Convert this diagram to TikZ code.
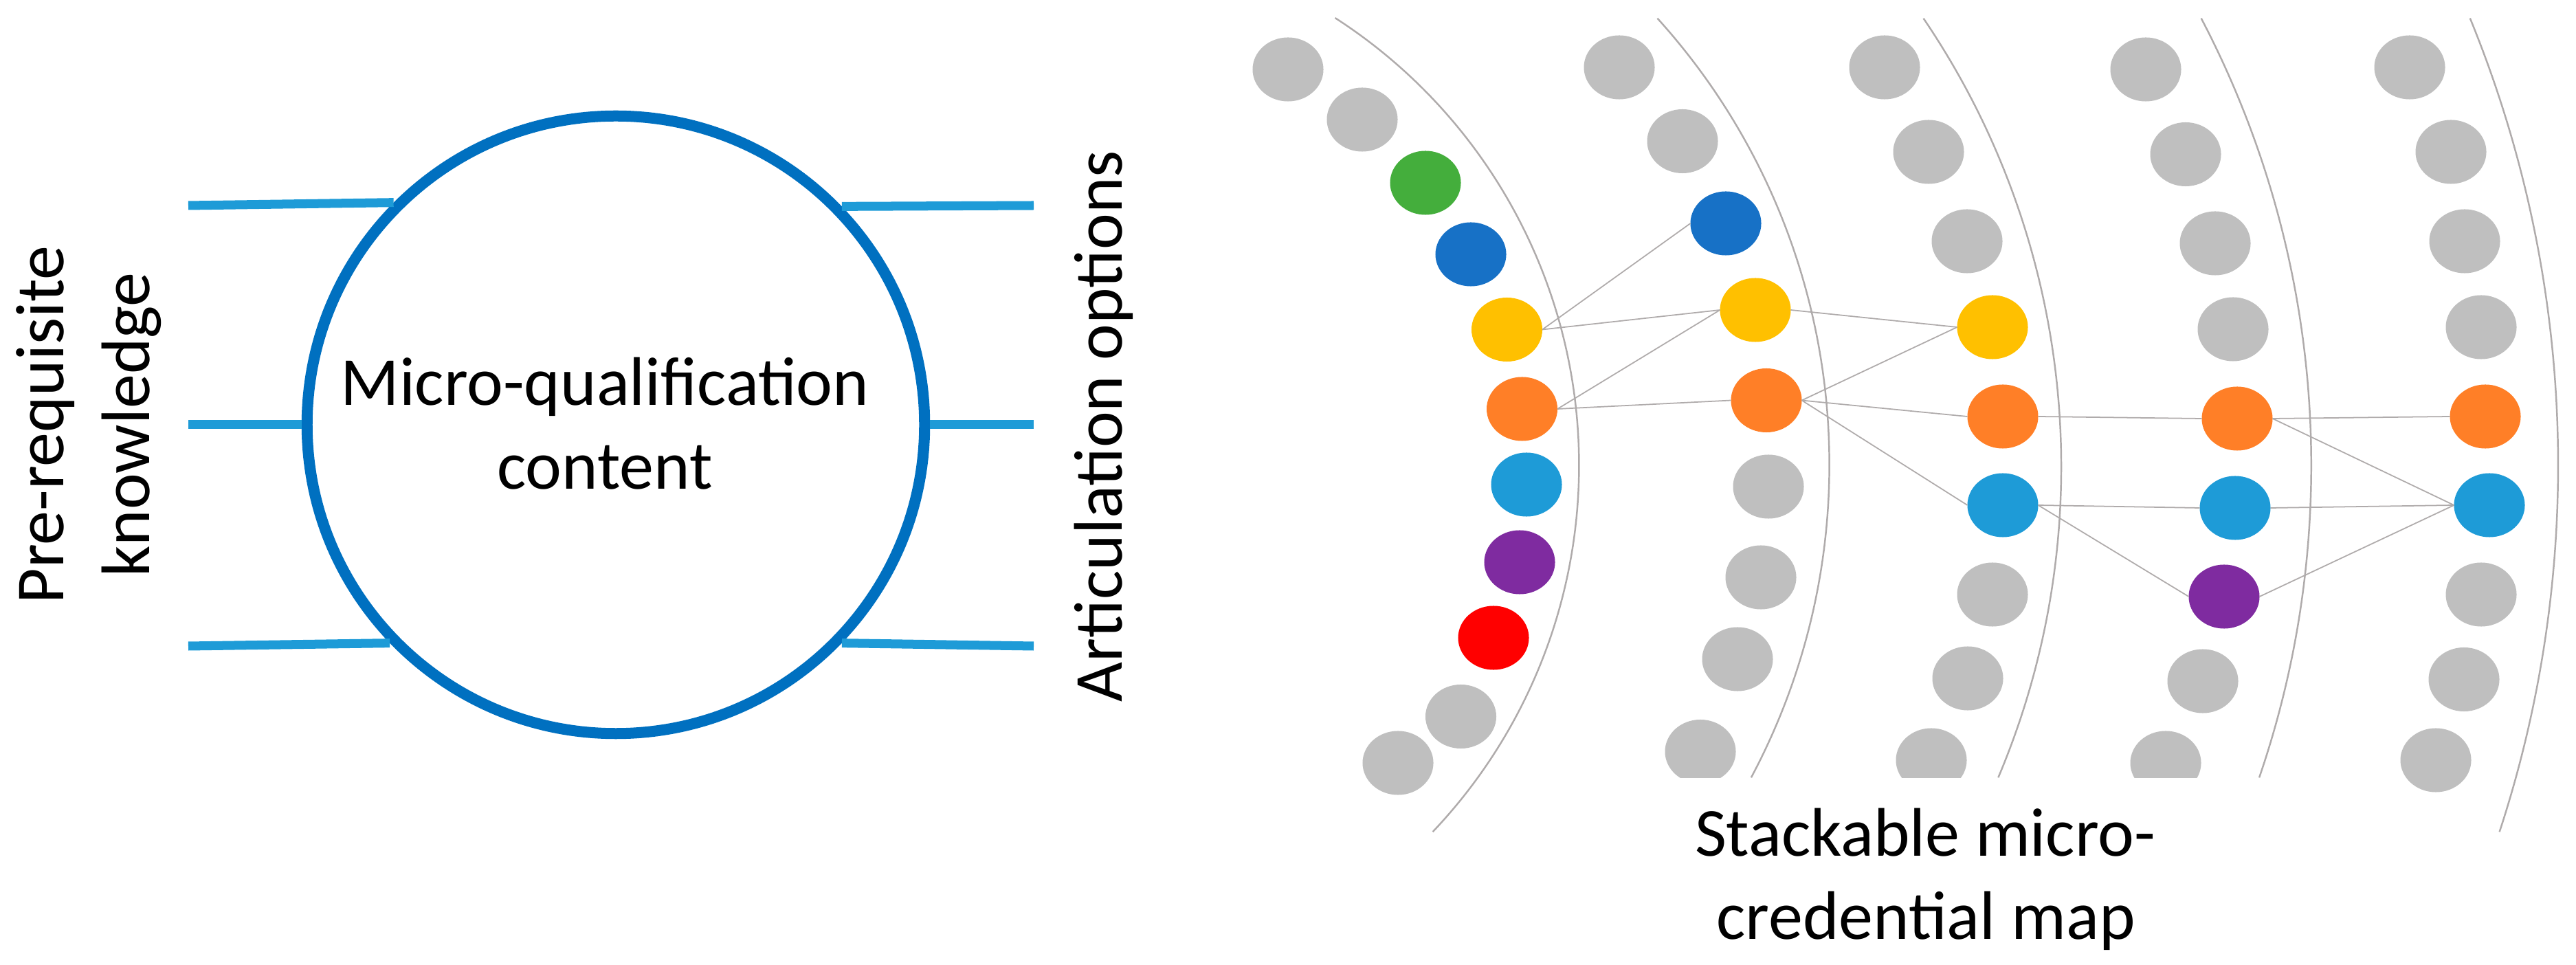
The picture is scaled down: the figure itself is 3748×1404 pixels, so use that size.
\documentclass[tikz,border=0pt]{standalone}
\usepackage{fontspec}
\setmainfont{Carlito}
\usetikzlibrary{shapes.geometric}
\definecolor{dotgray}{RGB}{191,191,191}
\definecolor{dgreen}{RGB}{68,174,60}
\definecolor{dblue}{RGB}{23,113,198}
\definecolor{dyellow}{RGB}{255,192,0}
\definecolor{dorange}{RGB}{255,127,39}
\definecolor{dcyan}{RGB}{30,155,215}
\definecolor{dpurple}{RGB}{127,43,160}
\definecolor{dred}{RGB}{255,0,0}
\definecolor{linkgray}{RGB}{175,171,171}
\definecolor{circblue}{RGB}{0,112,192}
\definecolor{lineblue}{RGB}{30,155,215}
\begin{document}
\begin{tikzpicture}[x=0.01cm,y=-0.01cm,
  dot/.style={ellipse, minimum width=1.03cm, minimum height=0.93cm, inner sep=0pt, outer sep=0pt, draw=none},
  gdot/.style={dot, fill=dotgray},
  lnk/.style={draw=linkgray, line width=0.5pt},
  arcln/.style={draw=linkgray, line width=0.7pt},
  lbl/.style={font=\fontsize{28.45}{34.7}\selectfont, inner sep=0pt},
  sideline/.style={draw=lineblue, line width=3.7pt},
  bigcirc/.style={circle, draw=circblue, line width=4.55pt, minimum size=8.98cm, inner sep=0pt, outer sep=2.275pt}]
\useasboundingbox (0,0) rectangle (3748,1404);

% left part
\node[bigcirc] (mq) at (896,618) {};
\coordinate (pl1) at (274,299);
\coordinate (pl2) at (274,618);
\coordinate (pl3) at (274,940);
\coordinate (pr1) at (1504,299);
\coordinate (pr2) at (1504,618);
\coordinate (pr3) at (1504,940);
\draw[sideline] (pl1) -- (mq.135.73);
\draw[sideline] (pl2) -- (mq.180);
\draw[sideline] (pl3) -- (mq.224.79);
\draw[sideline] (mq.44.27) -- (pr1);
\draw[sideline] (mq.0) -- (pr2);
\draw[sideline] (mq.-44.79) -- (pr3);
\node[lbl, anchor=base] (mqt1) at (880,590) {Micro-qualification};
\node[lbl, anchor=base] (mqt2) at (880,712) {content};
\node[lbl, anchor=base, rotate=90] (pk1) at (92,618) {Pre-requisite};
\node[lbl, anchor=base, rotate=90] (pk2) at (217,618) {knowledge};
\node[lbl, anchor=base, rotate=90] (ao) at (1632,620) {Articulation options};

% arcs
\draw[arcln] ([shift={(57.2:7.74cm)}]1523,677) arc[start angle=57.2, end angle=-43.52, radius=7.74cm];
\draw[arcln] ([shift={(42.14:9.673cm)}]1693.8,676) arc[start angle=42.14, end angle=-28.06, radius=9.673cm];
\draw[arcln] ([shift={(34.17:11.607cm)}]1837.7,679) arc[start angle=34.17, end angle=-22.92, radius=11.607cm];
\draw[arcln] ([shift={(27.66:14.003cm)}]1961.7,677) arc[start angle=27.66, end angle=-18.92, radius=14.003cm];
\draw[arcln] ([shift={(22.30:17.12cm)}]2009,676.5) arc[start angle=22.30, end angle=-18.16, radius=17.12cm];

% column 1
\node[gdot] (a1) at (1874,101) {};
\node[gdot] (a2) at (1982,174) {};
\node[dot, fill=dgreen] (a3) at (2074,266) {};
\node[dot, fill=dblue] (a4) at (2140,370) {};
\node[dot, fill=dyellow] (a5) at (2192.5,479.5) {};
\node[dot, fill=dorange] (a6) at (2214.5,595) {};
\node[dot, fill=dcyan] (a7) at (2221,705) {};
\node[dot, fill=dpurple] (a8) at (2211,818) {};
\node[dot, fill=dred] (a9) at (2173,928) {};
\node[gdot] (a10) at (2125.5,1042.5) {};
\node[gdot] (a11) at (2034,1110) {};

% column 2
\node[gdot] (b1) at (2356,98) {};
\node[gdot] (b2) at (2448,205.5) {};
\node[dot, fill=dblue] (b3) at (2511,325) {};
\node[dot, fill=dyellow] (b4) at (2554,451) {};
\node[dot, fill=dorange] (b5) at (2570,582.5) {};
\node[gdot] (b6) at (2573,708) {};
\node[gdot] (b7) at (2562,840) {};
\node[gdot] (b8) at (2528,959) {};

% column 3
\node[gdot] (c1) at (2742,98) {};
\node[gdot] (c2) at (2806,221) {};
\node[gdot] (c3) at (2862,351) {};
\node[dot, fill=dyellow] (c4) at (2899,476) {};
\node[dot, fill=dorange] (c5) at (2914,606) {};
\node[dot, fill=dcyan] (c6) at (2914,735) {};
\node[gdot] (c7) at (2899,865) {};
\node[gdot] (c8) at (2863,987) {};

% column 4
\node[gdot] (d1) at (3122,101) {};
\node[gdot] (d2) at (3180,224.5) {};
\node[gdot] (d3) at (3223,354) {};
\node[gdot] (d4) at (3249,479) {};
\node[dot, fill=dorange] (d5) at (3255,609) {};
\node[dot, fill=dcyan] (d6) at (3252,739) {};
\node[dot, fill=dpurple] (d7) at (3236,868) {};
\node[gdot] (d8) at (3205,991) {};

% bottom dots of columns 2-4, cut by the caption area
\begin{scope}
\clip (2300,0) rectangle (3400,1131);
\node[gdot] (b9) at (2474,1093.5) {};
\node[gdot] (c9) at (2810,1106) {};
\node[gdot] (d9) at (3151,1110) {};
\end{scope}

% column 5
\node[gdot] (e1) at (3506,98) {};
\node[gdot] (e2) at (3566,221) {};
\node[gdot] (e3) at (3586,351) {};
\node[gdot] (e4) at (3610,476) {};
\node[dot, fill=dorange] (e5) at (3616,606) {};
\node[dot, fill=dcyan] (e6) at (3622,735) {};
\node[gdot] (e7) at (3610,865) {};
\node[gdot] (e8) at (3585,988.5) {};
\node[gdot] (e9) at (3544,1106) {};

% links
\draw[lnk] (a5.east) -- (b3.west);
\draw[lnk] (a5.east) -- (b4.west);
\draw[lnk] (a6.east) -- (b4.west);
\draw[lnk] (a6.east) -- (b5.west);
\draw[lnk] (b4.east) -- (c4.west);
\draw[lnk] (b5.east) -- (c4.west);
\draw[lnk] (b5.east) -- (c5.west);
\draw[lnk] (b5.east) -- (c6.west);
\draw[lnk] (c5.east) -- (d5.west);
\draw[lnk] (c6.east) -- (d6.west);
\draw[lnk] (c6.east) -- (d7.west);
\draw[lnk] (d5.east) -- (e5.west);
\draw[lnk] (d5.east) -- (e6.west);
\draw[lnk] (d6.east) -- (e6.west);
\draw[lnk] (d7.east) -- (e6.west);

% caption
\node[lbl, anchor=base] (st1) at (2801,1245) {Stackable micro-};
\node[lbl, anchor=base] (st2) at (2802,1366) {credential map};
\end{tikzpicture}
\end{document}
